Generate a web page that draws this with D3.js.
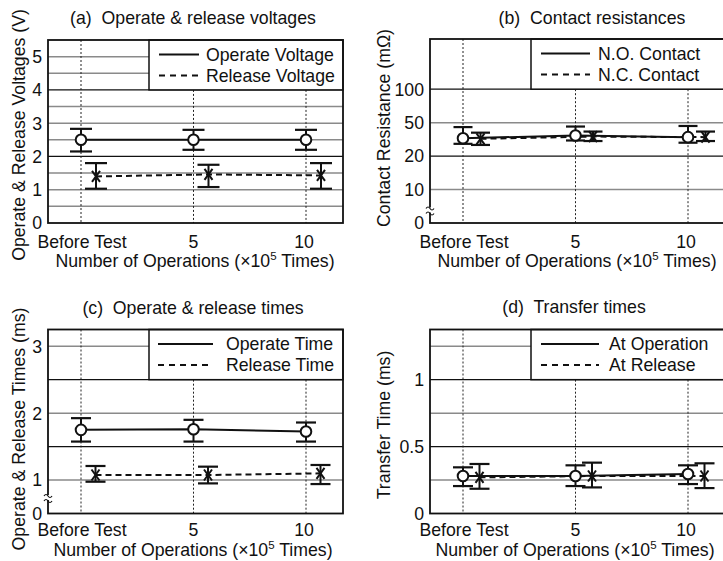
<!DOCTYPE html>
<html><head><meta charset="utf-8">
<script src="https://cdn.jsdelivr.net/npm/d3@7"></script>
<style>body{margin:0;background:#fff}svg{display:block}text{font-family:"Liberation Sans",Arial,Helvetica,sans-serif;fill:#111;white-space:pre}</style>
</head><body>
<script>
// ---- data ----
const categories = ["Before Test", "5", "10"];

const aTitle = "(a)  Operate & release voltages";
const aYLabel = "Operate & Release Voltages (V)";
const aSeriesNames = ["Operate Voltage", "Release Voltage"];
const aOperate = [2.5, 2.5, 2.5];
const aOperateLo = [2.15, 2.2, 2.2];
const aOperateHi = [2.83, 2.8, 2.8];
const aRelease = [1.4, 1.46, 1.43];
const aReleaseLo = [1.03, 1.08, 1.03];
const aReleaseHi = [1.8, 1.75, 1.8];
const aTicks = [0, 1, 2, 3, 4, 5];
const aTickLabels = ["0", "1", "2", "3", "4", "5"];
const aGrid = [0.5, 1, 1.5, 2, 2.5, 3, 3.5, 4, 4.5, 5];
const aMajor = [2, 4];

const bTitle = "(b)  Contact resistances";
const bYLabel = "Contact Resistance (mΩ)";
const bSeriesNames = ["N.O. Contact", "N.C. Contact"];
const bNO = [36, 38.5, 37];
const bNOLo = [31, 34, 32];
const bNOHi = [46, 46.5, 47];
const bNC = [35.5, 37.5, 37];
const bNCLo = [30, 33.5, 33.5];
const bNCHi = [41, 42, 42];
const bTicks = [0, 10, 20, 50, 100];
const bTickLabels = ["0", "10", "20", "50", "100"];
const bGrid = [10, 20, 50, 100];
const bMajor = [20, 100];

const cTitle = "(c)  Operate & release times";
const cYLabel = "Operate & Release Times (ms)";
const cSeriesNames = ["Operate Time", "Release Time"];
const cOperate = [1.75, 1.76, 1.725];
const cOperateLo = [1.575, 1.575, 1.575];
const cOperateHi = [1.925, 1.9, 1.86];
const cRelease = [1.075, 1.075, 1.1];
const cReleaseLo = [0.95, 0.9, 0.88];
const cReleaseHi = [1.21, 1.2, 1.225];
const cTicks = [0, 1, 2, 3];
const cTickLabels = ["0", "1", "2", "3"];
const cGrid = [1, 1.5, 2, 2.5, 3];
const cMajor = [1.5, 2.5];

const dTitle = "(d)  Transfer times";
const dYLabel = "Transfer Time (ms)";
const dSeriesNames = ["At Operation", "At Release"];
const dOperation = [0.28, 0.28, 0.295];
const dOperationLo = [0.205, 0.205, 0.22];
const dOperationHi = [0.345, 0.36, 0.36];
const dRelease = [0.27, 0.28, 0.28];
const dReleaseLo = [0.185, 0.195, 0.19];
const dReleaseHi = [0.37, 0.38, 0.375];
const dTicks = [0, 0.5, 1];
const dTickLabels = ["0", "0.5", "1"];
const dGrid = [0.25, 0.5, 0.75, 1, 1.25];
const dMajor = [0.5, 1];

const xAxisTitle = "Number of Operations (×10";

// ---- drawing ----
const W = 723, H = 561;
const svg = d3.select("body").append("svg").attr("width", W).attr("height", H);
const FS = 17.7;

function panel(o) {
  const left = o.left, top = o.top, w = 295, h = o.bottom - o.top, bottom = o.bottom, right = left + w;
  const step = h / 5.5;
  let y;
  if (o.kind === "a") y = d3.scaleLinear().domain([0, 5.5]).range([bottom, top]);
  else if (o.kind === "b") y = d3.scaleLinear().domain(bTicks).range(bTicks.map((d, i) => bottom - i * step));
  else if (o.kind === "c") y = d3.scaleLinear().domain([0, 1, 3.25]).range([bottom, bottom - step, top]);
  else y = d3.scaleLinear().domain([0, 1.375]).range([bottom, top]);
  const x = d3.scaleLinear().domain([0, 2]).range([left + 33, left + 258]);
  const g = svg.append("g");
  const legL = left + 101, legB = y(o.legendBottom);

  // gridlines
  g.selectAll(".grid").data(o.grid).join("line")
    .attr("x1", left).attr("x2", d => y(d) < legB - 0.5 ? legL : right)
    .attr("y1", d => y(d)).attr("y2", d => y(d))
    .attr("stroke", d => o.major.includes(d) ? "#111" : "#8a8a8a")
    .attr("stroke-width", d => o.major.includes(d) ? 1.3 : 1.5);
  // vertical dotted lines
  g.selectAll(".vd").data(categories).join("line")
    .attr("x1", (d, i) => x(i)).attr("x2", (d, i) => x(i))
    .attr("y1", (d, i) => i === 0 ? top : legB).attr("y2", bottom)
    .attr("stroke", "#222").attr("stroke-width", 1).attr("stroke-dasharray", "2,2");
  // legend box
  g.append("rect").attr("x", legL).attr("y", top).attr("width", right - legL).attr("height", legB - top)
    .attr("fill", "#fff").attr("stroke", "#111").attr("stroke-width", 1.5);
  // frame
  g.append("rect").attr("x", left).attr("y", top).attr("width", w).attr("height", h)
    .attr("fill", "none").attr("stroke", "#111").attr("stroke-width", 1.8);
  // break mark
  if (o.breakY) {
    const by = bottom - o.breakY;
    g.append("rect").attr("x", left - 4).attr("y", by - 2.5).attr("width", 8).attr("height", 5).attr("fill", "#fff");
    [-2.5, 2.5].forEach(dy => {
      g.append("path").attr("d", `M${left - 4},${by + dy + 1} q2,-3 4,0 t4,0`).attr("fill", "none").attr("stroke", "#111").attr("stroke-width", 1.2);
    });
  }
  // y ticks
  g.selectAll(".yt").data(o.ticks).join("text")
    .attr("x", left - 6).attr("y", d => y(d)).attr("dy", "0.36em")
    .attr("text-anchor", "end").attr("font-size", FS).text((d, i) => o.tickLabels[i]);
  // x ticks
  g.selectAll(".xt").data(categories).join("text")
    .attr("x", (d, i) => x(i) + (i === 0 ? 1 : i === 2 ? -2 : 0)).attr("y", bottom + o.xTickDy)
    .attr("text-anchor", "middle").attr("font-size", FS).text(d => d);
  // x title
  const xt = g.append("text").attr("x", o.xTitleX).attr("y", bottom + o.xTitleDy).attr("text-anchor", "middle").attr("font-size", FS);
  xt.append("tspan").text(xAxisTitle);
  xt.append("tspan").attr("font-size", 11.5).attr("dy", -7).text("5");
  xt.append("tspan").attr("dy", 7).text(" Times)");
  // y title
  g.append("text").attr("transform", `translate(${o.yTitleX},${o.yTitleY}) rotate(-90)`)
    .attr("text-anchor", "middle").attr("font-size", FS).text(o.yLabel);
  // panel title
  g.append("text").attr("x", o.titleX).attr("y", o.titleY).attr("text-anchor", "middle").attr("font-size", FS)
    .attr("xml:space", "preserve").text(o.title);

  // legend
  const ly = [top + 14.5, top + 35.5];
  g.append("line").attr("x1", legL + o.leg[0]).attr("x2", legL + o.leg[1]).attr("y1", ly[0]).attr("y2", ly[0]).attr("stroke", "#111").attr("stroke-width", 2);
  g.append("line").attr("x1", legL + o.leg[0]).attr("x2", legL + o.leg[1]).attr("y1", ly[1]).attr("y2", ly[1]).attr("stroke", "#111").attr("stroke-width", 2).attr("stroke-dasharray", "6,5");
  o.names.forEach((n, i) => g.append("text").attr("x", legL + o.leg[2]).attr("y", ly[i] + 6.3).attr("font-size", FS).text(n));

  const off = o.off;
  const s2 = o.s2.map((v, i) => ({ x: x(i) + off, v, lo: o.s2lo[i], hi: o.s2hi[i] }));
  const s1 = o.s1.map((v, i) => ({ x: x(i), v, lo: o.s1lo[i], hi: o.s1hi[i] }));
  const line = d3.line().x(d => d.x).y(d => y(d.v));
  g.append("path").datum(s2).attr("d", line).attr("fill", "none").attr("stroke", "#111").attr("stroke-width", 2).attr("stroke-dasharray", "6,4");
  g.append("path").datum(s1).attr("d", line).attr("fill", "none").attr("stroke", "#111").attr("stroke-width", 2);
  function errbars(data, cap) {
    data.forEach(d => {
      g.append("line").attr("x1", d.x).attr("x2", d.x).attr("y1", y(d.lo)).attr("y2", y(d.hi)).attr("stroke", "#111").attr("stroke-width", 2);
      [d.lo, d.hi].forEach(v => g.append("line").attr("x1", d.x - cap).attr("x2", d.x + cap).attr("y1", y(v)).attr("y2", y(v)).attr("stroke", "#111").attr("stroke-width", 2.2));
    });
  }
  errbars(s1, o.cap);
  errbars(s2, o.cap);
  s1.forEach(d => g.append("circle").attr("cx", d.x).attr("cy", y(d.v)).attr("r", 5.3).attr("fill", "#fff").attr("stroke", "#111").attr("stroke-width", 2));
  s2.forEach(d => {
    const cy = y(d.v);
    g.append("path").attr("d", `M${d.x - 4},${cy - 5.5}L${d.x + 4},${cy + 5.5}M${d.x + 4},${cy - 5.5}L${d.x - 4},${cy + 5.5}`)
      .attr("stroke", "#111").attr("stroke-width", 2).attr("fill", "none");
  });
}

panel({ kind: "a", left: 48, top: 40, bottom: 223, legendBottom: 4, grid: aGrid, major: aMajor, ticks: aTicks, tickLabels: aTickLabels,
  s1: aOperate, s1lo: aOperateLo, s1hi: aOperateHi, s2: aRelease, s2lo: aReleaseLo, s2hi: aReleaseHi, names: aSeriesNames,
  title: aTitle, titleX: 193, titleY: 24, yLabel: aYLabel, yTitleX: 25, yTitleY: 135, xTickDy: 25, xTitleDy: 44, xTitleX: 195,
  leg: [10, 50, 57], off: 15, cap: 11 });
panel({ kind: "b", left: 430, top: 39, bottom: 223, legendBottom: 100, grid: bGrid, major: bMajor, ticks: bTicks, tickLabels: bTickLabels,
  s1: bNO, s1lo: bNOLo, s1hi: bNOHi, s2: bNC, s2lo: bNCLo, s2hi: bNCHi, names: bSeriesNames,
  title: bTitle, titleX: 592, titleY: 24, yLabel: bYLabel, yTitleX: 390, yTitleY: 128, xTickDy: 25, xTitleDy: 44, xTitleX: 577,
  leg: [10, 59, 67], off: 17.5, cap: 9.5, breakY: 13 });
panel({ kind: "c", left: 48, top: 329.5, bottom: 513.5, legendBottom: 2.5, grid: cGrid, major: cMajor, ticks: cTicks, tickLabels: cTickLabels,
  s1: cOperate, s1lo: cOperateLo, s1hi: cOperateHi, s2: cRelease, s2lo: cReleaseLo, s2hi: cReleaseHi, names: cSeriesNames,
  title: cTitle, titleX: 193, titleY: 314, yLabel: cYLabel, yTitleX: 25, yTitleY: 429, xTickDy: 22, xTitleDy: 42, xTitleX: 193,
  leg: [9, 64, 77], off: 14.5, cap: 10, breakY: 16 });
panel({ kind: "d", left: 430, top: 329.5, bottom: 513.5, legendBottom: 1, grid: dGrid, major: dMajor, ticks: dTicks, tickLabels: dTickLabels,
  s1: dOperation, s1lo: dOperationLo, s1hi: dOperationHi, s2: dRelease, s2lo: dReleaseLo, s2hi: dReleaseHi, names: dSeriesNames,
  title: dTitle, titleX: 574, titleY: 313, yLabel: dYLabel, yTitleX: 390, yTitleY: 425, xTickDy: 22, xTitleDy: 42, xTitleX: 575,
  leg: [10, 68, 78], off: 16.5, cap: 10 });
</script>
</body></html>
